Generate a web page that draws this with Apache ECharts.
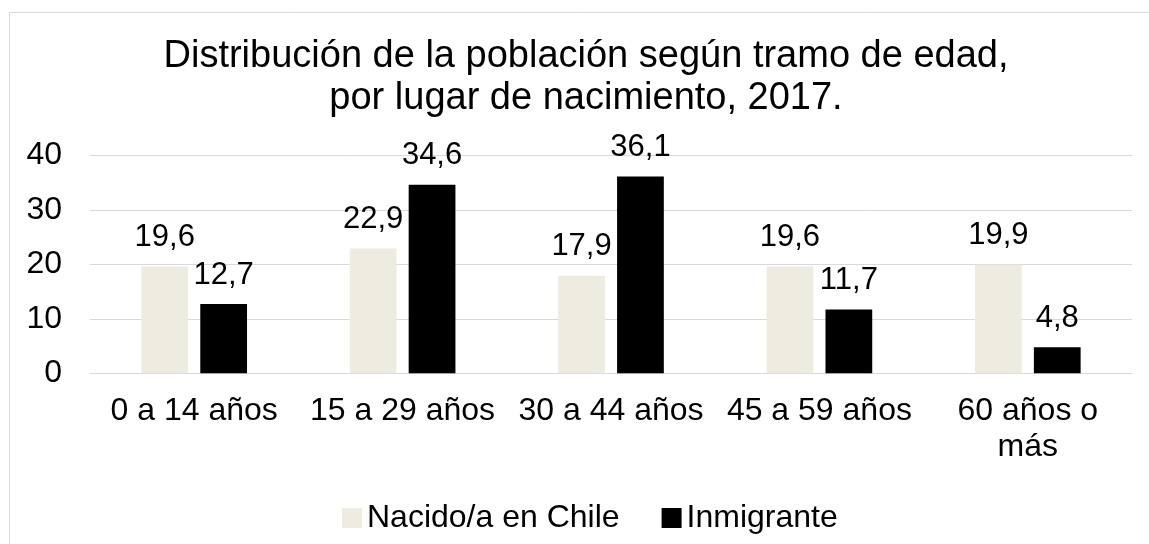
<!DOCTYPE html>
<html>
<head>
<meta charset="utf-8">
<script src="https://cdn.jsdelivr.net/npm/echarts@6/dist/echarts.min.js"></script>
<style>
html,body{margin:0;padding:0;background:#fff;}
#main{width:1149px;height:544px;}
</style>
</head>
<body>
<div id="main"></div>
<script>
var categories = ['0 a 14 años', '15 a 29 años', '30 a 44 años', '45 a 59 años', '60 años o\nmás'];
var seriesNames = ['Nacido/a en Chile', 'Inmigrante'];
var chileValues = [19.6, 22.9, 17.9, 19.6, 19.9];
var inmigranteValues = [12.7, 34.6, 36.1, 11.7, 4.8];
var yTicks = [0, 10, 20, 30, 40];

var FONT = '"Liberation Sans", Arial, Helvetica, sans-serif';
var chart = echarts.init(document.getElementById('main'), null, {renderer: 'canvas'});

function labelFmt(p) { return String(p.value).replace('.', ','); }

chart.setOption({
  backgroundColor: '#ffffff',
  animation: false,
  textStyle: {fontFamily: FONT},
  title: {
    text: 'Distribución de la población según tramo de edad,\npor lugar de nacimiento, 2017.',
    left: 586,
    top: 30,
    textAlign: 'center',
    padding: [5, 0, 5, 0],
    textStyle: {
      fontFamily: FONT,
      fontSize: 38,
      fontWeight: 'normal',
      color: '#000000',
      lineHeight: 42.4
    }
  },
  graphic: [{
    type: 'rect',
    shape: {x: 9.5, y: 12.5, width: 1200, height: 600},
    style: {fill: null, stroke: '#d9d9d9', lineWidth: 1},
    silent: true,
    z: -1
  }],
  legend: {
    data: seriesNames,
    left: 342,
    top: 502,
    padding: 0,
    itemWidth: 20,
    itemHeight: 20,
    itemGap: 42,
    icon: 'rect',
    textStyle: {fontFamily: FONT, fontSize: 32, color: '#000000', lineHeight: 20}
  },
  grid: {left: 90, right: 17, top: 155.3, bottom: 170.7, containLabel: false},
  xAxis: {
    type: 'category',
    data: categories,
    axisLine: {show: true, lineStyle: {color: '#d9d9d9', width: 1}},
    axisTick: {show: false},
    axisLabel: {
      interval: 0,
      margin: 20,
      fontFamily: FONT,
      fontSize: 32,
      color: '#000000',
      lineHeight: 36
    },
    splitLine: {show: false}
  },
  yAxis: {
    type: 'value',
    min: yTicks[0],
    max: yTicks[yTicks.length - 1],
    interval: 10,
    axisLine: {show: false},
    axisTick: {show: false},
    axisLabel: {margin: 28, fontFamily: FONT, fontSize: 32, color: '#000000'},
    splitLine: {show: true, lineStyle: {color: '#d9d9d9', width: 1}}
  },
  series: [
    {
      name: seriesNames[0],
      type: 'bar',
      data: chileValues,
      itemStyle: {color: '#EEECE1'},
      barCategoryGap: '49.3%',
      barGap: '26%',
      label: {
        show: true, position: 'top', distance: 12,
        formatter: labelFmt,
        fontFamily: FONT, fontSize: 31, color: '#000000', lineHeight: 34
      }
    },
    {
      name: seriesNames[1],
      type: 'bar',
      data: inmigranteValues,
      itemStyle: {color: '#000000'},
      barCategoryGap: '49.3%',
      barGap: '26%',
      label: {
        show: true, position: 'top', distance: 12,
        formatter: labelFmt,
        fontFamily: FONT, fontSize: 31, color: '#000000', lineHeight: 34
      }
    }
  ]
});
</script>
</body>
</html>
